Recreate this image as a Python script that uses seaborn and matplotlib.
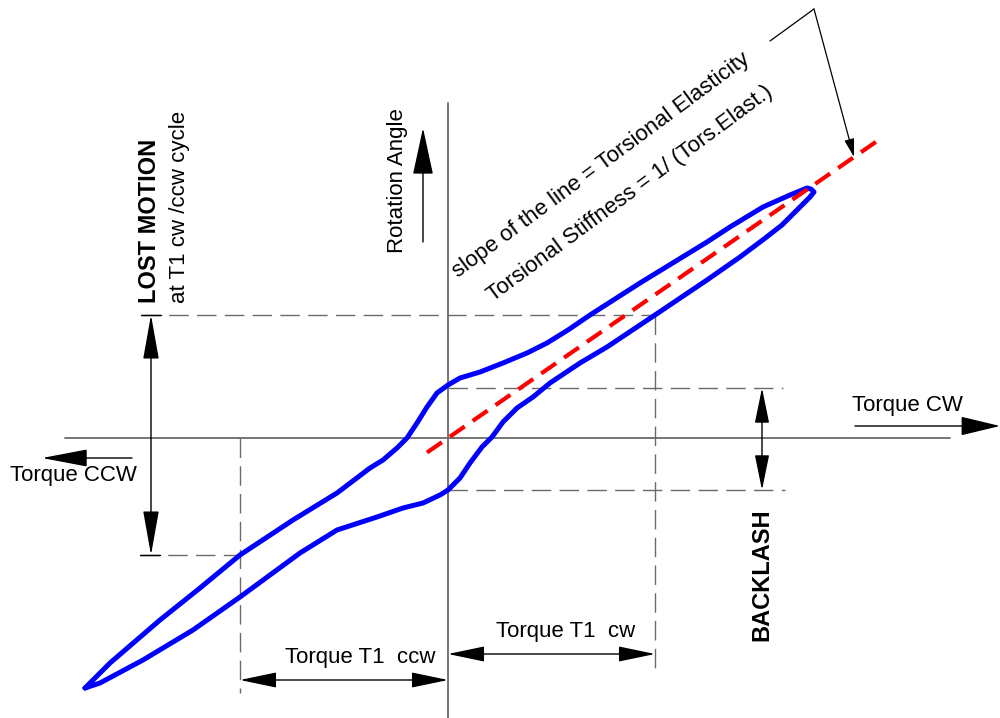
import numpy as np
import pandas as pd
import matplotlib
matplotlib.use("Agg")
import matplotlib.pyplot as plt
import seaborn as sns

# ---------------------------------------------------------------
# values (torque vs rotation angle, px units)
# ---------------------------------------------------------------
upper_torque = [-363, -338, -288, -248, -208, -155, -111, -78, -65, -51, -41,
                -31, -21, -11, 0, 12, 32, 55, 79, 99, 120, 142, 192, 259, 282,
                315, 342, 359, 363]
upper_angle = [-250, -225, -182, -150, -117, -82, -55, -30, -22, -10, 0,
               15, 31, 45, 53, 60, 66, 75, 85, 95, 108, 123, 155, 196, 211,
               231, 243, 250, 249]

lower_torque = [366, 362, 349, 334, 316, 292, 259, 207, 159, 132, 102, 85,
                69, 55, 44, 34, 22, 12, 0, -8, -25, -45, -71, -111, -148,
                -208, -255, -305, -348, -363]
lower_angle = [246, 241, 228, 213, 199, 181, 158, 123, 91, 75, 55, 41,
               30, 16, 1, -9, -25, -40, -52, -57, -65, -70, -79, -92, -115,
               -159, -192, -222, -245, -250]

stiffness_slope = 0.692
stiffness_range = [-21, 434]

t1_cw = 207
t1_ccw = -208
lost_top = 123
lost_bottom = -117
backlash_top = 50
backlash_bottom = -52

# ---------------------------------------------------------------
sns.set_style("white")
plt.rcParams["font.family"] = ["Liberation Sans", "DejaVu Sans"]
plt.rcParams["text.color"] = "black"
plt.rcParams["lines.scale_dashes"] = False

fig = plt.figure(figsize=(10, 7.18), dpi=100)
ax = fig.add_axes([0, 0, 1, 1])
ax.set_xlim(-448, 552)
ax.set_ylim(-280, 438)
ax.axis("off")

GRAY = "#6a6a6a"
DASH = (14, 6)


def arrow(x0, y0, x1, y1, style="-|>", hl=28, hw=6.5, lw=1.0, color="black"):
    ax.annotate("", xy=(x1, y1), xytext=(x0, y0),
                arrowprops=dict(arrowstyle=f"{style},head_length={hl},head_width={hw}",
                                color=color, lw=lw, shrinkA=0, shrinkB=0,
                                mutation_scale=1))


def dashed(xs, ys):
    ax.plot(xs, ys, color=GRAY, lw=1.0, dashes=DASH, zorder=1)


# main axes
ax.plot([0, 0], [335, -280], color=GRAY, lw=1.3, zorder=1)
ax.plot([-383, 502], [0, 0], color=GRAY, lw=1.3, zorder=1)

# dashed construction lines
dashed([-307, t1_cw], [lost_top, lost_top])
dashed([t1_cw, t1_cw], [lost_top, -230])
dashed([-308, t1_ccw], [lost_bottom, lost_bottom])
dashed([t1_ccw, t1_ccw], [0, -255])
dashed([0, 335], [backlash_top, backlash_top])
dashed([0, 337], [backlash_bottom, backlash_bottom])

# hysteresis loop
loop = pd.DataFrame({
    "torque": upper_torque + lower_torque,
    "angle": upper_angle + lower_angle,
})
sns.lineplot(data=loop, x="torque", y="angle", sort=False, estimator=None,
             color="#0000ff", lw=3.6, ax=ax, zorder=3)
ax.lines[-1].set_solid_joinstyle("round")
ax.lines[-1].set_solid_capstyle("round")

# stiffness line
st_x = np.array(stiffness_range)
sns.lineplot(x=st_x, y=stiffness_slope * st_x, color="#ff0000", lw=3.0,
             ax=ax, zorder=4)
ax.lines[-1].set_dashes((13, 7))

# direction arrows
arrow(407, 12, 552, 12, hl=25, hw=6)
arrow(-316, -20, -406, -20, hl=29, hw=5.5)
arrow(-25, 196, -25, 310, hl=30, hw=6.5)

# lost motion
ax.plot([-307, -287], [lost_top, lost_top], color="black", lw=1.0)
ax.plot([-308, -288], [lost_bottom, lost_bottom], color="black", lw=1.0)
arrow(-297, lost_bottom, -297, lost_top, style="<|-|>", hl=28, hw=5)

# backlash
arrow(314, backlash_bottom, 314, backlash_top, style="<|-|>", hl=22, hw=4.5)

# torque T1 dimensions
arrow(0, -216, t1_cw, -216, style="<|-|>", hl=23, hw=4.8)
arrow(t1_ccw, -242, 0, -242, style="<|-|>", hl=23, hw=4.8)

# leader to the stiffness line
ax.plot([322, 366], [397, 429], color="black", lw=0.9)
arrow(366, 429, 406, 281, hl=11, hw=3, lw=0.9)

# texts
fs = 16
ax.text(404, 33, "Torque CW", fontsize=fs, ha="left", va="center")
ax.text(-438, -37, "Torque CCW", fontsize=fs, ha="left", va="center")
ax.text(-50, 257, "Rotation Angle", fontsize=fs, rotation=90,
        ha="center", va="center")
ax.text(-298, 135, "LOST MOTION", fontsize=17, fontweight="bold",
        rotation=90, ha="center", va="bottom")
ax.text(-268, 135, "at T1 cw /ccw cycle", fontsize=fs, rotation=90,
        ha="center", va="bottom")
ax.text(314, -70, "BACKLASH", fontsize=17, fontweight="bold",
        rotation=90, ha="center", va="top")
ax.text(118, -194, "Torque T1  cw", fontsize=fs, ha="center", va="center")
ax.text(-88, -220, "Torque T1  ccw", fontsize=fs, ha="center", va="center")
ax.text(10, 160, "slope of the line = Torsional Elasticity", fontsize=fs,
        rotation=36.5, rotation_mode="anchor", ha="left", va="baseline")
ax.text(45, 136, "Torsional Stiffness = 1/ (Tors.Elast.)", fontsize=fs,
        rotation=36.5, rotation_mode="anchor", ha="left", va="baseline")

fig.savefig("out.png", dpi=100)
